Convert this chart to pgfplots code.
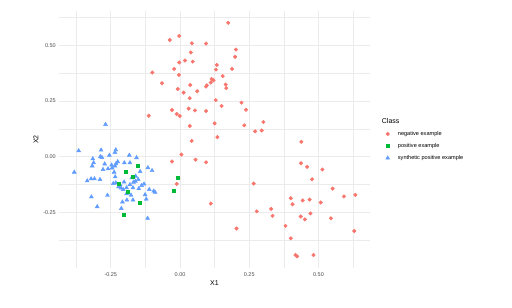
\documentclass[border=0pt]{standalone}
\usepackage{pgfplots}
\pgfplotsset{compat=1.18}
\usepackage{fontspec}
\setmainfont{Liberation Sans}
\definecolor{cneg}{HTML}{F8766D}
\definecolor{cpos}{HTML}{00BA38}
\definecolor{csyn}{HTML}{619CFF}
\definecolor{gridc}{HTML}{EBEBEB}
\definecolor{tickc}{HTML}{4D4D4D}
\begin{document}
\begin{tikzpicture}
\path[use as bounding box] (0,0) rectangle (512pt,308pt);
\begin{axis}[
  at={(59pt,40pt)}, anchor=south west, scale only axis,
  width=311pt, height=257pt,
  xmin=-0.437, xmax=0.686, ymin=-0.499, ymax=0.654,
  xtick={-0.25,0,0.25,0.5}, xticklabels={-0.25,0.00,0.25,0.50},
  ytick={-0.25,0,0.25,0.5}, yticklabels={-0.25,0.00,0.25,0.50},
  minor xtick={-0.375,-0.125,0.125,0.375,0.625},
  minor ytick={-0.375,-0.125,0.125,0.375,0.625},
  grid=both,
  major grid style={gridc, line width=0.6pt},
  minor grid style={gridc, line width=0.3pt},
  axis line style={draw=none},
  tick style={draw=none},
  xticklabel style={font=\fontsize{5.5}{6}\selectfont, text=tickc, anchor=center, inner sep=0pt, yshift=-7pt},
  yticklabel style={font=\fontsize{5.5}{6}\selectfont, text=tickc, anchor=east, inner sep=0pt, xshift=-3pt},
  xlabel={X1}, ylabel={X2},
  xlabel style={font=\fontsize{7}{8}\selectfont, at={(axis description cs:0.5,-0.0572)}, anchor=center},
  ylabel style={font=\fontsize{7}{8}\selectfont, at={(axis description cs:-0.074,0.5)}, anchor=center},
  legend style={at={(axis description cs:1.046,0.537)}, anchor=north west, draw=none, fill=none,
    font=\fontsize{5.6}{6.5}\selectfont, inner sep=0pt, row sep=4.5pt, nodes={inner sep=1pt}},
  legend cell align=left,
  legend image code/.code={\path (-3pt,0pt) (9pt,0pt); \draw[#1] plot coordinates {(0pt,0pt)};},
]
\addlegendimage{only marks, mark=*, mark size=1.8pt, cneg}
\addlegendentry{negative example}
\addlegendimage{only marks, mark=square*, mark size=1.5pt, cpos}
\addlegendentry{positive example}
\addlegendimage{only marks, mark=triangle*, mark size=2.3pt, csyn}
\addlegendentry{synthetic positive example}

% negative example
\addplot[forget plot, only marks, mark=*, mark size=1.8pt, cneg] coordinates {
(0.174,0.601) (-0.003,0.542) (-0.037,0.524) (0.043,0.509) (0.094,0.508)
(0.202,0.481) (0.039,0.468) (0.199,0.448) (0.018,0.432) (-0.003,0.423)
(0.046,0.427) (0.133,0.412) (-0.021,0.394) (0.188,0.394) (0.130,0.391)
(-0.100,0.378) (-0.004,0.367) (0.154,0.362) (0.114,0.349) (0.121,0.343)
(0.111,0.333) (-0.065,0.330) (0.097,0.321) (0.094,0.315) (0.037,0.322)
(0.165,0.324) (0.167,0.308) (-0.008,0.304) (0.062,0.294) (0.013,0.288)
(0.035,0.263) (0.129,0.254) (0.222,0.243) (0.150,0.228) (-0.029,0.210)
(0.031,0.216) (0.054,0.208) (0.094,0.205) (0.238,0.211) (-0.113,0.184)
(-0.012,0.192) (-0.001,0.183) (0.035,0.138) (0.125,0.150) (0.232,0.141)
(0.271,0.114) (0.301,0.156) (0.295,0.118) (0.438,0.067) (0.042,0.071)
(0.135,0.088) (0.005,0.010) (-0.029,-0.021) (0.056,-0.013) (0.094,-0.025)
(-0.012,-0.122) (0.266,-0.120) (0.111,-0.210) (0.204,-0.322) (0.277,-0.245)
(0.437,-0.029) (0.459,-0.045) (0.514,-0.057) (0.477,-0.101) (0.551,-0.143)
(0.400,-0.186) (0.443,-0.196) (0.468,-0.192) (0.406,-0.213) (0.508,-0.205)
(0.592,-0.178) (0.633,-0.171) (0.329,-0.234) (0.334,-0.265) (0.471,-0.254)
(0.436,-0.268) (0.451,-0.281) (0.545,-0.276) (0.381,-0.310) (0.629,-0.333)
(0.400,-0.366) (0.417,-0.441) (0.423,-0.447) (0.482,-0.441)
};

% synthetic positive example
\addplot[forget plot, only marks, mark=triangle*, mark size=2.3pt, csyn] coordinates {
(-0.269,0.145) (-0.366,0.027) (-0.285,0.030) (-0.232,0.031) (-0.235,0.019)
(-0.255,0.007) (-0.288,0.000) (-0.282,-0.003) (-0.183,0.007) (-0.157,-0.004)
(-0.315,-0.009) (-0.312,-0.027) (-0.317,-0.041) (-0.272,-0.032) (-0.225,-0.022)
(-0.201,-0.027) (-0.181,-0.027) (-0.247,-0.037) (-0.235,-0.041) (-0.231,-0.031)
(-0.245,-0.050) (-0.260,-0.054) (-0.278,-0.057) (-0.116,-0.049) (-0.101,-0.062)
(-0.382,-0.069) (-0.238,-0.069) (-0.144,-0.066) (-0.234,-0.090) (-0.160,-0.087)
(-0.174,-0.094) (-0.151,-0.102) (-0.161,-0.110) (-0.335,-0.108) (-0.321,-0.099)
(-0.309,-0.099) (-0.289,-0.102) (-0.241,-0.120) (-0.232,-0.117) (-0.202,-0.113)
(-0.168,-0.114) (-0.181,-0.125) (-0.216,-0.126) (-0.222,-0.135) (-0.213,-0.140)
(-0.205,-0.147) (-0.193,-0.139) (-0.170,-0.139) (-0.149,-0.143) (-0.130,-0.122)
(-0.139,-0.129) (-0.111,-0.147) (-0.095,-0.154) (-0.090,-0.159) (-0.177,-0.172)
(-0.193,-0.166) (-0.126,-0.170) (-0.262,-0.173) (-0.320,-0.180) (-0.122,-0.190)
(-0.170,-0.194) (-0.192,-0.194) (-0.208,-0.203) (-0.299,-0.224) (-0.212,-0.232)
(-0.117,-0.276)
};

% positive example
\addplot[forget plot, only marks, mark=square*, mark size=1.5pt, cpos] coordinates {
(-0.196,-0.066) (-0.153,-0.042) (-0.170,-0.089) (-0.221,-0.121) (-0.189,-0.156)
(-0.146,-0.205) (-0.204,-0.259) (-0.007,-0.092) (-0.022,-0.150)
};
\end{axis}
\node[anchor=west, inner sep=0pt, font=\fontsize{7}{8}\selectfont] at (381.7pt,187.3pt) {Class};
\end{tikzpicture}
\end{document}
